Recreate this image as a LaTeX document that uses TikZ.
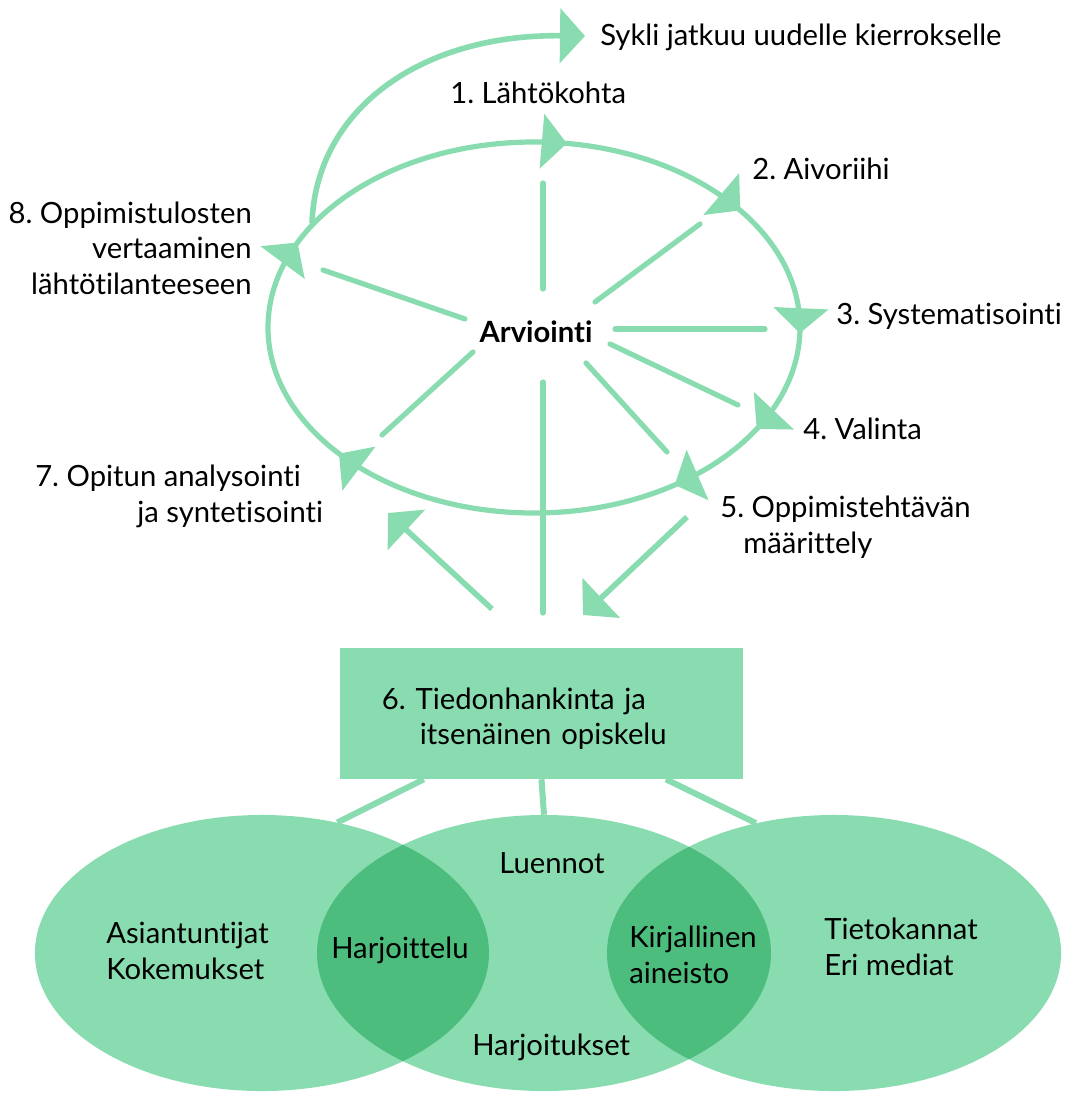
\documentclass[tikz,border=0pt]{standalone}
\usepackage{fontspec}
\setmainfont{Lato}[Ligatures=NoCommon]
\usetikzlibrary{arrows.meta,decorations.markings,shapes.geometric}
\definecolor{cyclegreen}{RGB}{137,220,176}
\definecolor{lensgreen}{RGB}{76,189,125}
\newcommand\cyclefont{\fontsize{20.8pt}{24.9pt}\selectfont\frenchspacing}
\tikzset{ringtip/.tip={Triangle[length=6.25mm,width=13.5mm]},
 ring/.style={line width=1.3mm,cyclegreen},
 spoke/.style={line width=1.3mm,cyclegreen,line cap=round},
 flow/.style={line width=1.4mm,cyclegreen,-{ringtip}},
 link/.style={line width=1.5mm,cyclegreen},
 venn/.style={ellipse,fill=cyclegreen,minimum width=11.35cm,minimum height=6.9cm,inner sep=0pt},
 infobox/.style={fill=cyclegreen,text width=7.975cm,inner xsep=1.05cm,minimum height=3.275cm,align=left},
 txt/.style={inner sep=0pt},
 every node/.style={font=\cyclefont}}
\begin{document}
\begin{tikzpicture}[x=0.025cm,y=-0.025cm]
\useasboundingbox (0,0) rectangle (1066,1093);
% kierros
\draw[ring,postaction={decorate},decoration={markings,
 mark=at position 0.004 with {\arrow{ringtip}},
 mark=at position 0.079 with {\arrow{ringtip}},
 mark=at position 0.149 with {\arrow{ringtip}},
 mark=at position 0.395 with {\arrow{ringtip}},
 mark=at position 0.564 with {\arrow{ringtip}},
 mark=at position 0.773 with {\arrow{ringtip}},
 mark=at position 0.905 with {\arrow{ringtip}}}]
 (534,327.5) ellipse [x radius=266,y radius=185.5];
\node[txt,anchor=base west] (sykli) at (600,45) {Sykli jatkuu uudelle kierrokselle};
\node[txt,anchor=base west] (v1) at (450,103) {1. Lähtökohta};
\node[txt,anchor=base west] (v2) at (752,179) {2. Aivoriihi};
\node[txt,anchor=base west] (v3) at (836,324) {3. Systematisointi};
\node[txt,anchor=base west] (v4) at (803,439) {4. Valinta};
\node[txt,anchor=base west,align=left] (v5) at (720,553) {5. Oppimistehtävän\\\hspace*{0.575cm}määrittely};
\node[txt,anchor=base west,align=left] (v7) at (35,522) {7. Opitun analysointi\\\hspace*{2.55cm}ja syntetisointi};
\node[txt,anchor=base east,align=right] (v8) at (252,294) {8. Oppimistulosten\\vertaaminen\hspace*{0.225cm}\\lähtötilanteeseen};
\node[txt,anchor=base,font=\cyclefont\bfseries] (arv) at (536,342) {Arviointi};
\coordinate (s0) at (312,223);
\coordinate (s1) at (585,36);
\draw[flow] (s0) .. controls (316,110) and (420,34) .. (s1);
% sakarat
\draw[spoke] (465,319) -- (323,270);
\draw[spoke] (543,289) -- (543,183);
\draw[spoke] (595,302) -- (700,224);
\draw[spoke] (615,329) -- (765,329);
\draw[spoke] (610,344) -- (738,405);
\draw[spoke] (586,363) -- (667,452);
\draw[spoke] (543,382) -- (543,613);
\draw[spoke] (473,352) -- (382,435);
\coordinate (a0) at (492,609);
\coordinate (a1) at (388,513);
\coordinate (b0) at (687,517);
\coordinate (b1) at (583,615);
\draw[flow] (a0) -- (a1);
\draw[flow] (b0) -- (b1);
% tiedonhankinta
\node[infobox] (tiedon) at (541.5,713.5) {\rule{0pt}{0.78cm}6. Tiedonhankinta ja\\\hspace*{0.95cm}itsenäinen opiskelu};
\node[venn] (asian) at (262,953) {};
\node[venn] (luento) at (544,953) {};
\node[venn] (tieto) at (834,953) {};
\begin{scope}
\clip (asian.center) ellipse [x radius=227,y radius=138];
\fill[lensgreen] (luento.center) ellipse [x radius=227,y radius=138];
\end{scope}
\begin{scope}
\clip (luento.center) ellipse [x radius=227,y radius=138];
\fill[lensgreen] (tieto.center) ellipse [x radius=227,y radius=138];
\end{scope}
\draw[link] ([xshift=-2.94cm]tiedon.south) -- (asian.60.9);
\draw[link] (tiedon.south) -- (luento.north);
\draw[link] ([xshift=3.11cm]tiedon.south) -- (tieto.121.1);
\node[txt,anchor=base west,align=left] (t1) at (106,979) {Asiantuntijat\\Kokemukset};
\node[txt,anchor=base west] (t2) at (331,958) {Harjoittelu};
\node[txt,anchor=base west] (t3) at (499,873) {Luennot};
\node[txt,anchor=base west,align=left] (t4) at (629,983) {Kirjallinen\\aineisto};
\node[txt,anchor=base west,align=left] (t5) at (824,975) {Tietokannat\\Eri mediat};
\node[txt,anchor=base west] (t6) at (472,1055) {Harjoitukset};
\end{tikzpicture}
\end{document}
